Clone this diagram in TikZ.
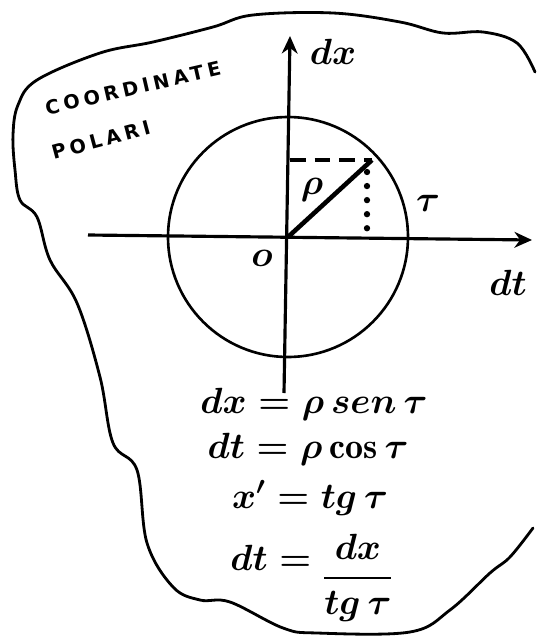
\documentclass[tikz,border=0pt]{standalone}
\usepackage{amsmath}
\usepackage{fontspec}
\newfontfamily\capsfont[LetterSpace=22]{DejaVu Sans}
\usepackage{tikz}
\usetikzlibrary{positioning, arrows.meta, calc}

\begin{document}
\begin{tikzpicture}[
    x=0.02cm, y=-0.02cm,
    axis/.style={line width=1.8pt, -{Stealth[length=10pt, width=9pt]}},
    hand/.style={font=\fontsize{22}{26}\selectfont\boldmath},
    caps/.style={font=\fontsize{11}{13}\selectfont\capsfont\bfseries, inner sep=1pt},
    eqn/.style={font=\fontsize{20.5}{24}\selectfont\boldmath, anchor=base},
]
    \useasboundingbox (0,0) rectangle (538,639);

    % Border of the sheet (open on the right)
    \draw[line width=1.6pt, line cap=round] plot[smooth, tension=0.6] coordinates {
        (535,72) (517,43) (483,32) (443,33) (400,22) (333,13) (253,15)
        (213,27) (153,42) (100,53) (37,80) (18,105) (13,135) (15,170)
        (20,200) (37,217) (50,260) (77,303) (100,377) (113,443) (137,470)
        (147,543) (173,587) (200,600) (230,602) (283,628) (317,633)
        (410,632) (450,610) (490,573) (510,557) (533,528)};

    % Axes
    \coordinate (O)  at (288,237);
    \coordinate (xL) at (88,235);
    \coordinate (xR) at (532,240);
    \coordinate (yB) at (284,393);
    \coordinate (yT) at (290,36);
    \draw[axis] (xL) -- (xR);
    \draw[axis] (yB) -- (yT);

    % Circle and radius
    \draw[line width=1.5pt] (O) circle[radius=2.4cm];
    \coordinate (P)  at (372,160);
    \coordinate (Py) at (290,160);
    \coordinate (Px) at (367,232);
    \draw[line width=2.6pt] (O) -- (P);
    \draw[line width=1.8pt, dash pattern=on 9pt off 5pt] (Py) -- (P);
    \draw[line width=3.6pt, line cap=round, dash pattern=on 0pt off 8pt]
        ($(P)+(-5,12)$) -- (Px);

    % Labels
    \node[hand] (ldx)  at (333,52)  {$dx$};
    \node[hand] (ldt)  at (508,283) {$dt$};
    \node[hand] (lO)   at (262,258) {$o$};
    \node[hand] (lrho) at (312,190) {$\rho$};
    \node[hand] (ltau) at (428,203) {$\tau$};

    \node[caps, rotate=13] (title1) at (133,88)  {COORDINATE};
    \node[caps, rotate=15] (title2) at (101,140) {POLARI};

    % Formulas
    \node[eqn] (eq1) at (314,413) {$dx = \rho\, sen\,\tau$};
    \node[eqn] (eq2) at (308,458) {$dt = \rho\cos\tau$};
    \node[eqn] (eq3) at (310,508) {$x' = tg\,\tau$};
    \node[eqn, anchor=center] (eq4) at (312,578)
        {$\raisebox{0.45em}{$dt =$}\ \dfrac{dx}{tg\,\tau}$};
\end{tikzpicture}
\end{document}
